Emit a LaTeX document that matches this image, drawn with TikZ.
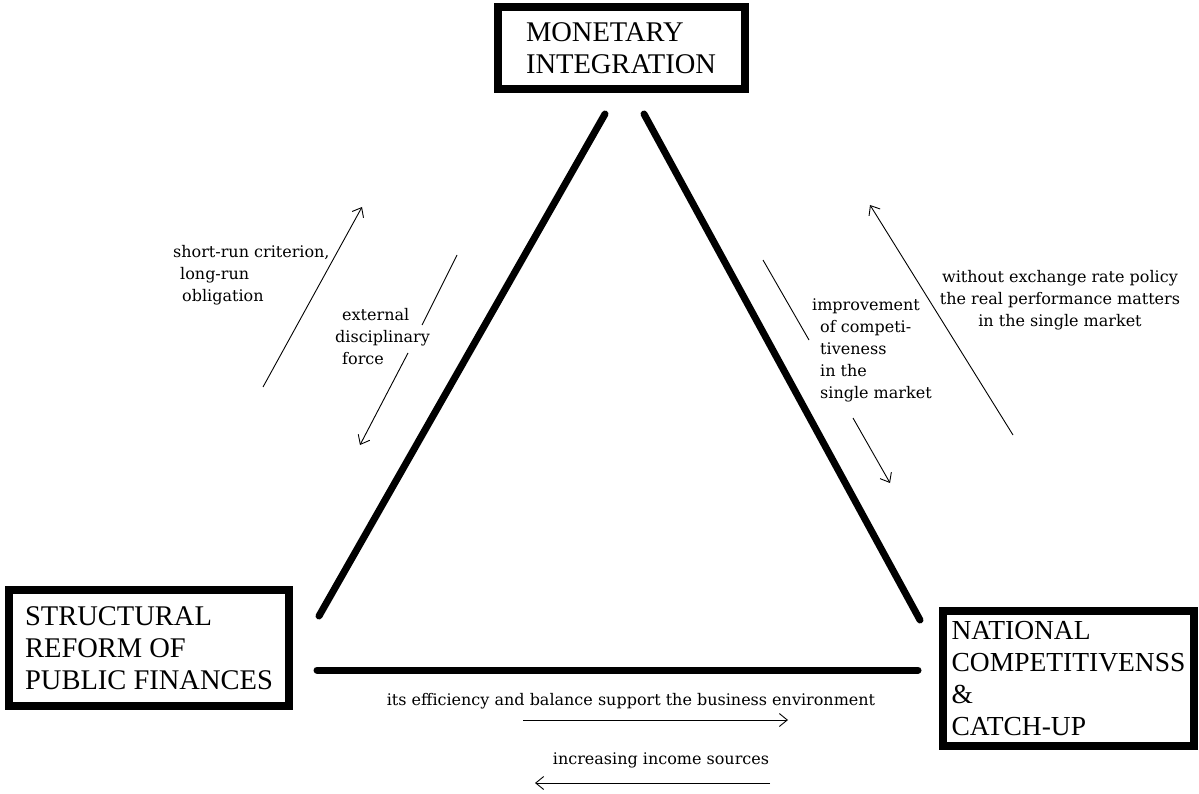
\documentclass[tikz,border=0pt]{standalone}
\usepackage{fontspec}
\setmainfont{Liberation Serif}
\newfontfamily\notefont{DejaVu Serif}
\usetikzlibrary{arrows.meta,positioning}

\begin{document}
\begin{tikzpicture}[x=1pt,y=-1pt,
    box/.style={draw, line width=8pt, align=left, inner sep=0pt, font=\fontsize{28.5pt}{32pt}\selectfont},
    side/.style={line width=7pt, line cap=round},
    flow/.style={line width=0.9pt, -{Straight Barb[length=8pt,width=13pt]}},
    note/.style={inner sep=0pt, font=\notefont\fontsize{16pt}{22pt}\selectfont}]
    \useasboundingbox (0,0) rectangle (1199,794);
    % the three corners
    \node (monetary) at (621,48) [box, minimum width=247pt, minimum height=82pt] {MONETARY\\INTEGRATION};
    \node (reform) at (149,648) [box, minimum width=280pt, minimum height=116pt] {STRUCTURAL\\REFORM OF\\PUBLIC FINANCES};
    \node (national) at (1068.5,678.5) [box, minimum width=251pt, minimum height=135pt, font=\fontsize{27.5pt}{32pt}\selectfont] {NATIONAL\\COMPETITIVENSS\\\&\\CATCH-UP};
    % triangle
    \coordinate (apexL) at (605,114);
    \coordinate (apexR) at (644,114);
    \coordinate (leftfoot) at (319,616);
    \coordinate (rightfoot) at (920,620);
    \coordinate (baseL) at (317,670);
    \coordinate (baseR) at (918,670);
    \draw[side] (leftfoot) -- (apexL);
    \draw[side] (apexR) -- (rightfoot);
    \draw[side] (baseL) -- (baseR);
    % left side
    \coordinate (srA) at (263,387);
    \coordinate (srB) at (362,207);
    \draw[flow] (srA) -- (srB);
    \node (shortrun) at (173,275) [note, anchor=west, align=left] {short-run criterion,\\\hspace*{7pt}long-run\\\hspace*{9pt}obligation};
    \coordinate (extA) at (457,255);
    \coordinate (extB) at (422,325);
    \coordinate (extC) at (408,353);
    \coordinate (extD) at (360,445);
    \draw[line width=0.9pt] (extA) -- (extB);
    \draw[flow] (extC) -- (extD);
    \node (external) at (335,337) [note, anchor=west, align=left] {\hspace*{7pt}external\\disciplinary\\\hspace*{7pt}force};
    % right side
    \coordinate (impA) at (763,260);
    \coordinate (impB) at (809,340);
    \coordinate (impC) at (853,418);
    \coordinate (impD) at (890,483);
    \draw[line width=0.9pt] (impA) -- (impB);
    \draw[flow] (impC) -- (impD);
    \node (improve) at (812,350) [note, anchor=west, align=left] {improvement\\\hspace*{8pt}of competi-\\\hspace*{8pt}tiveness\\\hspace*{8pt}in the\\\hspace*{8pt}single market};
    \coordinate (exA) at (1013,435);
    \coordinate (exB) at (870,205);
    \draw[flow] (exA) -- (exB);
    \node (exchange) at (1060,300) [note, align=center] {without exchange rate policy\\the real performance matters\\in the single market};
    % base
    \node (efficiency) at (631,701) [note] {its efficiency and balance support the business environment};
    \coordinate (effA) at (523,720);
    \coordinate (effB) at (788,720);
    \draw[flow] (effA) -- (effB);
    \node (income) at (661,760) [note] {increasing income sources};
    \coordinate (incA) at (770,783);
    \coordinate (incB) at (535,783);
    \draw[flow] (incA) -- (incB);
\end{tikzpicture}
\end{document}
